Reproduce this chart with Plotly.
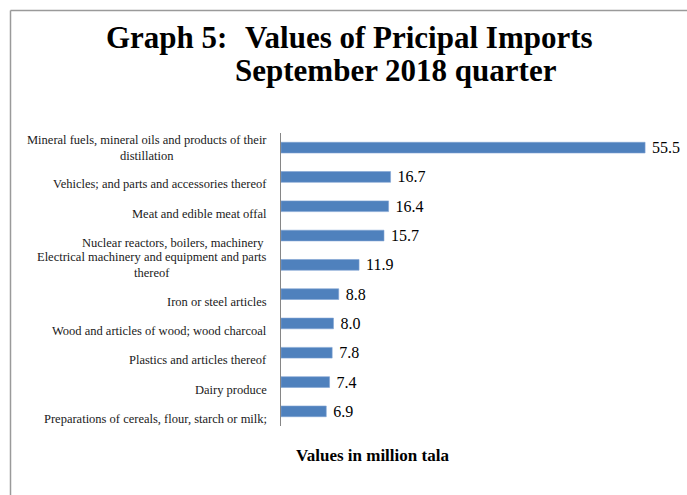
import plotly.graph_objects as go

# ---- data ----
categories = [
    "Mineral fuels, mineral oils and products of their<br>distillation",
    "Vehicles; and parts and accessories thereof",
    "Meat and edible meat offal",
    "Nuclear reactors, boilers, machinery ",
    "Electrical machinery and equipment and parts<br>thereof",
    "Iron or steel articles",
    "Wood and articles of wood; wood charcoal",
    "Plastics and articles thereof",
    "Dairy produce",
    "Preparations of cereals, flour, starch or milk;",
]
values = [55.5, 16.7, 16.4, 15.7, 11.9, 8.8, 8.0, 7.8, 7.4, 6.9]
category_ids = list(range(len(categories)))

title_part1 = "Graph 5:"
title_part2 = "Values of Pricipal Imports"
title_line2 = "September 2018 quarter"
x_title = "Values in million tala"

# ---- layout constants ----
W, H = 687, 495
L, R, T, B = 281, 37, 133, 69
PW = W - L - R
PH = H - T - B
XMAX = PW / 6.56

def px_x(px):
    return (px - L) / PW

def px_y(py):
    return (H - B - py) / PH

SERIF = "Liberation Serif, Times New Roman, serif"

fig = go.Figure()
fig.add_trace(go.Bar(
    y=category_ids,
    x=values,
    orientation="h",
    marker=dict(color="#4F81BD", line=dict(color="#7FA3D3", width=0.6)),
    text=["\u00a0" + f"{v:.1f}" for v in values],
    textposition="outside",
    textfont=dict(family=SERIF, size=16, color="#000000"),
    constraintext="none",
    cliponaxis=False,
    hoverinfo="skip",
))

annotations = [
    dict(text=f"<b>{title_part1}</b>", x=px_x(104), y=px_y(37.5), xref="paper", yref="paper",
         xanchor="left", yanchor="middle", showarrow=False,
         font=dict(family=SERIF, size=31, color="#000000")),
    dict(text=f"<b>{title_part2}</b>", x=px_x(243), y=px_y(37.5), xref="paper", yref="paper",
         xanchor="left", yanchor="middle", showarrow=False,
         font=dict(family=SERIF, size=31, color="#000000")),
    dict(text=f"<b>{title_line2}</b>", x=px_x(233), y=px_y(71), xref="paper", yref="paper",
         xanchor="left", yanchor="middle", showarrow=False,
         font=dict(family=SERIF, size=31, color="#000000")),
    dict(text=f"<b>{x_title}</b>", x=px_x(294), y=px_y(455), xref="paper", yref="paper",
         xanchor="left", yanchor="middle", showarrow=False,
         font=dict(family=SERIF, size=17, color="#000000")),
]

# category labels, centred per line like the original; single-line labels
# sit half a line below their bar in the original
for cid, lab in zip(category_ids, categories):
    annotations.append(dict(
        text=lab, x=px_x(269), y=cid, xref="paper", yref="y",
        xanchor="right", yanchor="middle", align="center", showarrow=False,
        yshift=0 if "<br>" in lab else -7.5,
        font=dict(family=SERIF, size=12.5, color="#1a1a1a"),
    ))

shapes = [
    dict(type="line", xref="paper", yref="paper", x0=px_x(10.5), x1=px_x(W + 2),
         y0=px_y(10.5), y1=px_y(10.5), line=dict(color="#9a9a9a", width=1.5)),
    dict(type="line", xref="paper", yref="paper", x0=px_x(10.5), x1=px_x(10.5),
         y0=px_y(10.5), y1=px_y(H + 2), line=dict(color="#9a9a9a", width=1.5)),
]

fig.update_layout(
    width=W, height=H,
    margin=dict(l=L, r=R, t=T, b=B, pad=0),
    paper_bgcolor="white",
    plot_bgcolor="white",
    showlegend=False,
    bargap=0.634,
    annotations=annotations,
    shapes=shapes,
    xaxis=dict(range=[0, XMAX], showgrid=False, zeroline=False, showline=False,
               showticklabels=False, ticks="", fixedrange=True),
    yaxis=dict(tickmode="array", tickvals=category_ids,
               range=[len(categories) - 0.5, -0.5],
               showgrid=False, zeroline=False, showline=True,
               linecolor="#868686", linewidth=1, ticks="",
               showticklabels=False),
)

fig.write_html(
    "out.html",
    config={"displayModeBar": False},
    post_script="document.body.style.margin='0';document.body.style.overflow='hidden';",
)
